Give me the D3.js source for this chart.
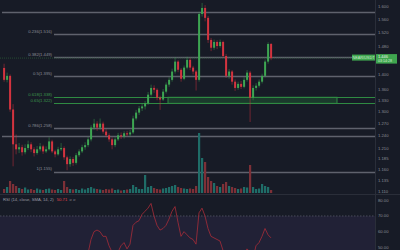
<!DOCTYPE html>
<html>
<head>
<meta charset="utf-8">
<script src="https://cdn.jsdelivr.net/npm/d3@7"></script>
<style>
  html, body { margin: 0; padding: 0; background: #171b26; }
  svg { display: block; font-family: "Liberation Sans", Arial, sans-serif; }
</style>
</head>
<body>
<svg id="chart" width="400" height="250"></svg>
<script>
// NEAR/USDT candles, open of each bar = previous close
const firstOpen = 1.418;
const closes = [1.385,1.396,1.306,1.219,1.207,1.212,1.200,1.210,1.219,1.207,
  1.198,1.207,1.214,1.202,1.207,1.226,1.202,1.195,1.207,1.210,
  1.188,1.172,1.184,1.175,1.193,1.202,1.212,1.217,1.231,1.260,
  1.270,1.260,1.270,1.250,1.241,1.231,1.217,1.231,1.241,1.238,
  1.246,1.243,1.248,1.283,1.298,1.309,1.314,1.322,1.345,1.363,
  1.358,1.337,1.332,1.353,1.372,1.385,1.408,1.436,1.413,1.388,
  1.419,1.441,1.419,1.408,1.385,1.578,1.597,1.566,1.499,1.476,
  1.493,1.481,1.493,1.452,1.396,1.408,1.380,1.363,1.374,1.366,
  1.385,1.405,1.337,1.363,1.369,1.380,1.396,1.436,1.487,1.446];
const highs = [1.430,1.405,1.400,1.320,1.243,1.222,1.218,1.219,1.228,1.224,
  1.212,1.215,1.222,1.218,1.214,1.236,1.230,1.206,1.213,1.222,
  1.214,1.192,1.190,1.189,1.198,1.207,1.218,1.224,1.237,1.266,
  1.282,1.276,1.283,1.275,1.256,1.246,1.236,1.236,1.247,1.248,
  1.251,1.252,1.254,1.290,1.305,1.315,1.322,1.328,1.352,1.372,
  1.370,1.362,1.342,1.360,1.378,1.392,1.416,1.448,1.440,1.418,
  1.425,1.450,1.446,1.424,1.412,1.585,1.613,1.606,1.572,1.505,
  1.500,1.498,1.500,1.497,1.458,1.415,1.412,1.386,1.380,1.382,
  1.392,1.412,1.410,1.370,1.376,1.386,1.402,1.442,1.492,1.490];
const lows = [1.380,1.378,1.300,1.167,1.195,1.198,1.192,1.195,1.205,1.200,
  1.190,1.194,1.202,1.196,1.198,1.204,1.198,1.188,1.192,1.203,
  1.182,1.158,1.166,1.168,1.171,1.189,1.198,1.206,1.212,1.226,
  1.255,1.252,1.255,1.245,1.236,1.225,1.207,1.212,1.227,1.232,
  1.233,1.238,1.238,1.244,1.278,1.292,1.302,1.306,1.318,1.340,
  1.350,1.330,1.305,1.328,1.348,1.366,1.380,1.402,1.406,1.380,
  1.384,1.414,1.412,1.400,1.356,1.380,1.570,1.555,1.490,1.466,
  1.470,1.472,1.476,1.446,1.390,1.388,1.372,1.355,1.358,1.360,
  1.362,1.380,1.274,1.330,1.356,1.364,1.375,1.392,1.430,1.440];
const volumes = [40,60,120,90,70,50,40,55,35,40,
  30,45,35,30,40,45,35,30,40,30,
  120,60,40,35,40,30,45,35,50,60,
  45,40,35,30,40,35,45,30,35,25,
  30,35,40,80,60,40,40,180,60,70,
  50,40,35,45,50,60,70,80,60,50,
  45,40,45,40,70,600,350,310,160,120,
  100,70,60,90,110,70,60,50,40,45,
  60,55,280,60,40,45,90,70,60,30];
const rsi = [38,40,30,24,23,25,24,26,28,27,
  26,28,30,29,30,34,31,30,33,34,
  31,28,31,30,35,38,41,43,46,55,
  60,61,60,57,57,51,47,46,47,51,
  53,49,52,64,66,67,71,73,75,78,
  70,64,61,62,64,68,73,76,66,57,
  60,58,56,55,52,72,75,70,62,57,
  56,55,54,48,44,45,42,40,42,41,
  45,49,47,43,51,53,57,62,58,56];

// price axis ticks and fib levels
const priceTicks = [1.600,1.560,1.520,1.480,1.400,1.360,1.330,1.300,1.270,1.240,1.210,1.185,1.160,1.135,1.110];
const fibLevels = ["0.236","0.382","0.5","0.618","0.65","0.786","1"];
const fibPrices = [1.516,1.449,1.395,1.338,1.322,1.258,1.155];
const extraLines = [1.584,1.240];
const zonePrices = [1.338,1.322];
const rsiTicks = [80,70,60,50];
const lastPrice = 1.446;

const W = 400, H = 250, axisX = 375;
const svg = d3.select("#chart");

const x = d3.scaleLinear().domain([0, closes.length - 1]).range([4, 271]);
const y = d3.scaleLog().domain([1.6, 1.11]).range([7, 191.6]);
const yVol = d3.scaleLinear().domain([0, 600]).range([193, 133]);
const yRsi = d3.scaleLinear().domain([80, 50]).range([200.3, 247.3]);

const up = "#3da552", down = "#d3333f";
const volUp = "#1f6d68", volDown = "#7d3037";
const gray = "#5f626d", green = "#2f8a42";

const bars = closes.map((c, i) => ({
  i, o: i === 0 ? firstOpen : closes[i - 1], c, h: highs[i], l: lows[i], v: volumes[i]
}));

// horizontal lines across the pane
svg.selectAll(".hl").data(extraLines).enter().append("line")
  .attr("x1", 2).attr("x2", axisX)
  .attr("y1", d => Math.round(y(d)) + 0.5).attr("y2", d => Math.round(y(d)) + 0.5)
  .attr("stroke", gray).attr("stroke-width", 1.3);

// fib zone
svg.append("rect")
  .attr("x", 168).attr("width", 337 - 168)
  .attr("y", y(zonePrices[0])).attr("height", y(zonePrices[1]) - y(zonePrices[0]))
  .attr("fill", "#1b3a2c").attr("stroke", "#2f8a42").attr("stroke-width", 1);

// fib lines and labels
const fib = svg.selectAll(".fib").data(fibLevels).enter().append("g");
fib.append("line")
  .attr("x1", 54).attr("x2", axisX)
  .attr("y1", (d, i) => Math.round(y(fibPrices[i])) + 0.5)
  .attr("y2", (d, i) => Math.round(y(fibPrices[i])) + 0.5)
  .attr("stroke", (d, i) => i === 3 || i === 4 ? green : gray)
  .attr("stroke-width", (d, i) => i === 3 || i === 4 ? 1 : 1.3);
fib.append("text")
  .attr("x", 52).attr("y", (d, i) => y(fibPrices[i]) - 1.5)
  .attr("text-anchor", "end")
  .attr("font-size", 4.2)
  .attr("fill", (d, i) => i === 3 || i === 4 ? "#3c9a4d" : "#8b8e97")
  .text((d, i) => `${d}(${fibPrices[i].toFixed(3)})`);

// current price line
svg.append("line")
  .attr("x1", 0).attr("x2", axisX)
  .attr("y1", y(lastPrice)).attr("y2", y(lastPrice))
  .attr("stroke", "#2f6b3c").attr("stroke-width", 0.6).attr("stroke-dasharray", "1,1");

// volume
svg.selectAll(".vol").data(bars).enter().append("rect")
  .attr("x", d => x(d.i) - 1).attr("width", 2.2)
  .attr("y", d => yVol(d.v)).attr("height", d => yVol(0) - yVol(d.v))
  .attr("fill", d => d.c >= d.o ? volUp : volDown);

// candles
const candle = svg.selectAll(".candle").data(bars).enter().append("g");
candle.append("line")
  .attr("x1", d => x(d.i) + 0.1).attr("x2", d => x(d.i) + 0.1)
  .attr("y1", d => y(d.h)).attr("y2", d => y(d.l))
  .attr("stroke", d => d.c >= d.o ? up : down).attr("stroke-width", 0.6)
  .attr("opacity", 0.8);
candle.append("rect")
  .attr("x", d => x(d.i) - 0.9).attr("width", 2)
  .attr("y", d => y(Math.max(d.o, d.c)))
  .attr("height", d => Math.max(0.8, Math.abs(y(d.o) - y(d.c))))
  .attr("fill", d => d.c >= d.o ? up : down);

// right axis
svg.append("line").attr("x1", axisX + 0.5).attr("x2", axisX + 0.5).attr("y1", 0).attr("y2", H)
  .attr("stroke", "#2a2e39");
svg.selectAll(".pt").data(priceTicks).enter().append("text")
  .attr("x", 378).attr("y", d => y(d)).attr("dy", "0.35em")
  .attr("font-size", 4.2).attr("fill", "#8b8e97")
  .text(d => d.toFixed(3));

// symbol tag and price tag
const py = y(lastPrice);
svg.append("rect").attr("x", 352).attr("y", py - 3.5).attr("width", 23).attr("height", 6)
  .attr("fill", "#3fa64f");
svg.append("text").attr("x", 363.5).attr("y", py - 0.5).attr("dy", "0.35em")
  .attr("text-anchor", "middle").attr("font-size", 3.8).attr("fill", "#c8e8cc")
  .text("NEAR/USDT");
svg.append("rect").attr("x", 376).attr("y", py - 4).attr("width", 21).attr("height", 9.5)
  .attr("fill", "#3fa64f");
svg.append("text").attr("x", 378).attr("y", py - 1.3).attr("dy", "0.35em")
  .attr("font-size", 4).attr("fill", "#e6f4e8").text(lastPrice.toFixed(3));
svg.append("text").attr("x", 378).attr("y", py + 2.9).attr("dy", "0.35em")
  .attr("font-size", 3.6).attr("fill", "#d8efdb").text("03:14:28");

// RSI pane
svg.append("line").attr("x1", 0).attr("x2", W).attr("y1", 194.5).attr("y2", 194.5)
  .attr("stroke", "#2a2e39");
svg.append("rect").attr("x", 0).attr("width", axisX).attr("y", yRsi(70)).attr("height", H - yRsi(70))
  .attr("fill", "#7e57c2").attr("opacity", 0.1);
svg.append("line").attr("x1", 0).attr("x2", axisX).attr("y1", yRsi(70)).attr("y2", yRsi(70))
  .attr("stroke", "#6a6d78").attr("stroke-width", 0.6).attr("stroke-dasharray", "1.5,1.5");
svg.selectAll(".rt").data(rsiTicks).enter().append("text")
  .attr("x", 378).attr("y", d => yRsi(d)).attr("dy", "0.35em")
  .attr("font-size", 4.2).attr("fill", "#8b8e97")
  .text(d => d.toFixed(2));

svg.append("defs").append("clipPath").attr("id", "rsiClip")
  .append("rect").attr("x", 0).attr("y", 195).attr("width", axisX).attr("height", 55);
svg.append("path")
  .datum(rsi)
  .attr("clip-path", "url(#rsiClip)")
  .attr("d", d3.line().x((d, i) => x(i)).y(d => yRsi(d)))
  .attr("fill", "none").attr("stroke", "#a82c38").attr("stroke-width", 0.8);

const lbl = svg.append("text").attr("x", 3).attr("y", 199.5).attr("dy", "0.35em")
  .attr("font-size", 4.2).attr("fill", "#9a9da6");
lbl.append("tspan").text("RSI (14, close, SMA, 14, 2)");
lbl.append("tspan").attr("dx", 3).attr("fill", "#e0424c").text("50.71");
lbl.append("tspan").attr("dx", 2).attr("fill", "#6f727c").text("ø  ø");
</script>
</body>
</html>
